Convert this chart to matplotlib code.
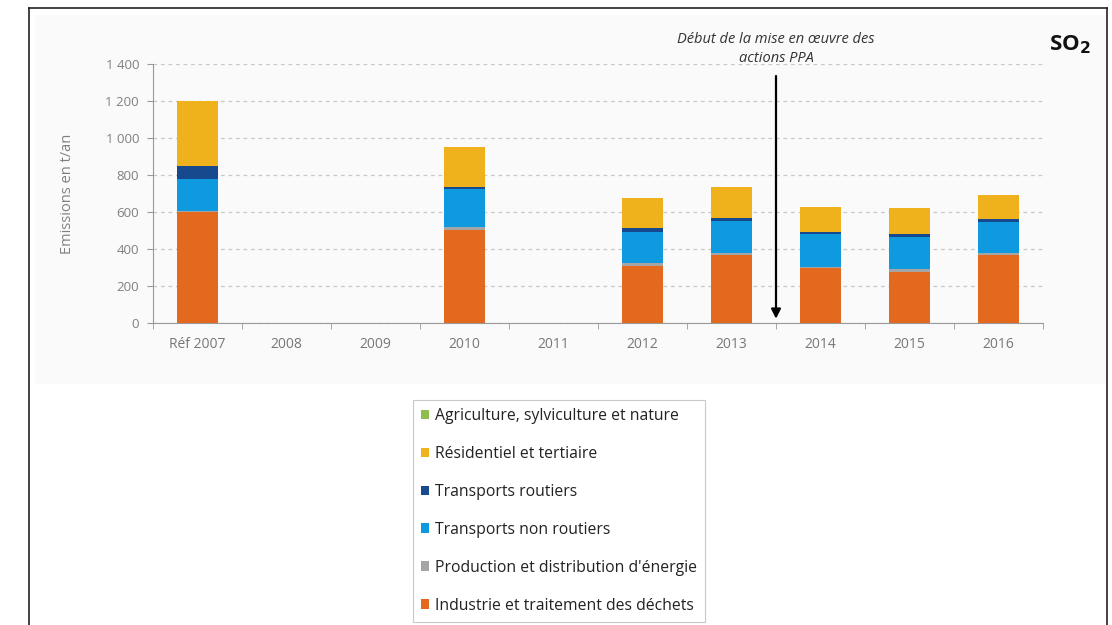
import numpy as np
import matplotlib.pyplot as plt
from matplotlib.lines import Line2D
from matplotlib.patches import Rectangle

plt.rcParams['font.family'] = ['Open Sans', 'DejaVu Sans']

# Data (t/an)
years = ['Réf 2007', '2008', '2009', '2010', '2011', '2012', '2013', '2014', '2015', '2016']
industrie = [598, 0, 0, 505, 0, 310, 368, 297, 278, 368]
energie = [5, 0, 0, 14, 0, 14, 10, 6, 14, 10]
transp_non_rout = [177, 0, 0, 205, 0, 168, 173, 178, 173, 168]
transp_rout = [70, 0, 0, 11, 0, 20, 16, 11, 16, 16]
residentiel = [350, 0, 0, 216, 0, 164, 168, 135, 140, 130]
agriculture = [0, 0, 0, 0, 0, 0, 0, 0, 0, 0]

series = [
    ('Industrie et traitement des déchets', industrie, '#e2691e'),
    ("Production et distribution d'énergie", energie, '#a5a5a5'),
    ('Transports non routiers', transp_non_rout, '#0f9ae0'),
    ('Transports routiers', transp_rout, '#17498f'),
    ('Résidentiel et tertiaire', residentiel, '#efb11c'),
    ('Agriculture, sylviculture et nature', agriculture, '#8fbd4f'),
]

fig = plt.figure(figsize=(11.12, 6.25), dpi=100)

# faint panel background and black frame
fig.patches.append(Rectangle((35 / 1112, 1 - 383 / 625), 1070 / 1112, 368 / 625,
                             transform=fig.transFigure, color='#fafafa', zorder=-5))
frame_kw = dict(transform=fig.transFigure, color='#222222', lw=1.2, zorder=-4)
fig.lines.append(Line2D([29 / 1112, 29 / 1112], [0, 1 - 8 / 625], **frame_kw))
fig.lines.append(Line2D([29 / 1112, 1107 / 1112], [1 - 8 / 625, 1 - 8 / 625], **frame_kw))
fig.lines.append(Line2D([1107 / 1112, 1107 / 1112], [0, 1 - 8 / 625], **frame_kw))

ax = fig.add_axes([153 / 1112, (625 - 323) / 625, 890 / 1112, 259 / 625])
ax.set_facecolor('none')

x = np.arange(len(years))
bottom = np.zeros(len(years))
handles = []
for name, vals, col in series:
    vals = np.array(vals, dtype=float)
    b = ax.bar(x, vals, 0.45, bottom=bottom, color=col, label=name, zorder=3)
    bottom += vals
    handles.append(b)

ax.set_xlim(-0.5, len(years) - 0.5)
ax.set_ylim(0, 1400)
ax.set_yticks(np.arange(0, 1401, 200))
ax.set_yticklabels([f'{v:,}'.replace(',', ' ') for v in range(0, 1401, 200)])
ax.set_xticks(x)
ax.set_xticklabels(years)
ax.set_xticks(np.arange(-0.5, len(years), 1), minor=True)
ax.tick_params(axis='x', which='major', length=0, pad=10, labelsize=10, labelcolor='#777777')
ax.tick_params(axis='x', which='minor', length=4, color='#999999', direction='out')
ax.tick_params(axis='y', length=4, color='#999999', labelsize=9.5, labelcolor='#808080', pad=6)
ax.grid(axis='y', color='#c8c8c8', linestyle=(0, (3, 3)), lw=0.9, zorder=0)
for s in ['top', 'right']:
    ax.spines[s].set_visible(False)
ax.spines['left'].set_color('#999999')
ax.spines['bottom'].set_color('#999999')
ax.set_ylabel('Emissions en t/an', fontsize=10.5, color='#808080', labelpad=22)

# PPA arrow
ax.annotate('', xy=(6.5, 8), xytext=(6.5, 1350),
            arrowprops=dict(arrowstyle='-|>', color='black', lw=1.6, mutation_scale=14),
            zorder=5, annotation_clip=False)
ax.text(6.5, 1390, 'Début de la mise en œuvre des\nactions PPA', ha='center', va='bottom',
        fontsize=10.5, style='italic', color='#333333', linespacing=1.35)

fig.text(1070 / 1112, 1 - 45 / 625, r'SO$_\mathbf{2}$', ha='center', va='center',
         fontsize=16, fontweight='bold', color='#111111')

leg = fig.legend(handles[::-1], [s[0] for s in series][::-1], loc='upper left',
                 bbox_to_anchor=(413 / 1112, 1 - 400 / 625), frameon=True, fancybox=False,
                 edgecolor='#bbbbbb', fontsize=11.3, handlelength=0.55, handleheight=0.55,
                 handletextpad=0.35, labelspacing=1.4, borderpad=0.5, borderaxespad=0,
                 labelcolor='#222222')
leg.get_frame().set_linewidth(0.8)

fig.savefig('out.png', dpi=100)
